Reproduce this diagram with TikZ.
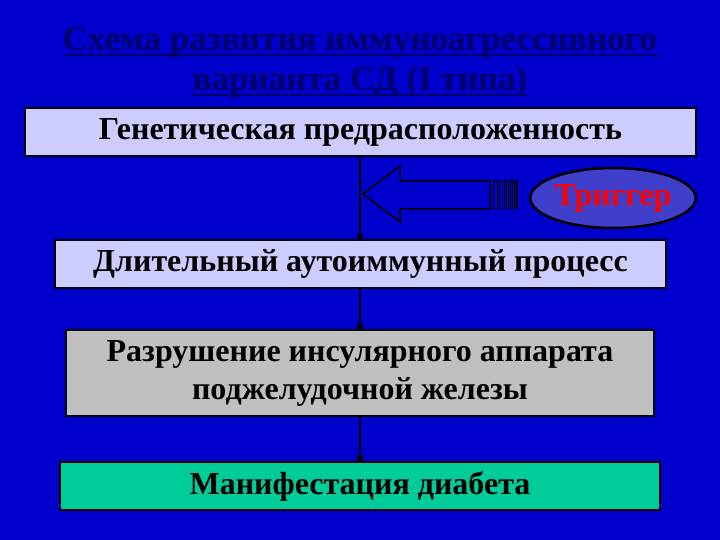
\documentclass[tikz,border=0pt]{standalone}
\usepackage{fontspec}
\setmainfont{Liberation Serif}
\usetikzlibrary{shapes.geometric,arrows.meta}
\definecolor{bg}{HTML}{0000CC}
\definecolor{lav}{HTML}{CCCCFF}
\definecolor{ttl}{HTML}{00006A}
\definecolor{ell}{HTML}{3F3FCC}
\definecolor{tealc}{HTML}{00CC99}
\definecolor{grayc}{HTML}{C0C0C0}
\tikzset{box/.style={draw=black,line width=2.5pt,font=\bfseries\fontsize{32}{38}\selectfont,text=black,align=center,inner sep=0pt},
 conn/.style={line width=2pt,-{Circle[length=6pt]}},
 ttlt/.style={text=ttl,font=\bfseries\fontsize{35}{40}\selectfont,inner sep=0pt,anchor=base}}
\begin{document}
\begin{tikzpicture}[x=1pt,y=-1pt]
\fill[bg] (0,0) rectangle (720,540);
\useasboundingbox (0,0) rectangle (720,540);
\node[ttlt] (t1) at (360,51) {Схема развития иммуноагрессивного};
\node[ttlt] (t2) at (360,91) {варианта СД (I типа)};
\draw[ttl,line width=2pt] ([yshift=-4pt]t1.base west) -- ([yshift=-4pt]t1.base east);
\draw[ttl,line width=2pt] ([yshift=-4pt]t2.base west) -- ([yshift=-4pt]t2.base east);
\node[box,fill=lav,minimum width=671pt,minimum height=48pt] (b1) at (360.5,132) {Генетическая предрасположенность};
\node[box,fill=lav,minimum width=611pt,minimum height=48pt] (b2) at (360.5,264) {Длительный аутоиммунный процесс};
\node[box,fill=grayc,minimum width=588pt,minimum height=86pt] (b3) at (360,373) {Разрушение инсулярного аппарата\\поджелудочной железы};
\node[box,fill=tealc,minimum width=600pt,minimum height=48pt] (b4) at (360,486) {Манифестация диабета};
\draw[conn] (360,157) -- (360,239);
\draw[conn] (360,289) -- (360,329);
\draw[conn] (360,417) -- (360,461);
\draw[line width=1.5pt,fill=bg] (363,194) -- (400,166) -- (400,181) -- (490,181) -- (490,209) -- (400,209) -- (400,222) -- cycle;
\foreach \x/\w in {493/4,499/3,504/2,508/2,512/2,516/1}
  \draw[line width=1pt,fill=bg] (\x,181) rectangle ++(\w,28);
\node[ellipse,draw=black,line width=2.5pt,fill=ell,minimum width=146pt,minimum height=60pt,inner sep=0pt,text=red,font=\bfseries\fontsize{32}{36}\selectfont] (trig) at (613,198) {Триггер};
\end{tikzpicture}
\end{document}
